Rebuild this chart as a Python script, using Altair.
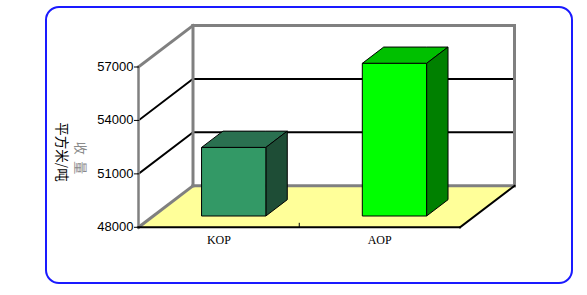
import altair as alt
import pandas as pd

# ---------------- data ----------------
categories = ["KOP", "AOP"]
values = [51850, 56570]
front_colors = ["#339966", "#00ff00"]
top_colors = ["#2a7050", "#00c000"]
side_colors = ["#1e4d36", "#008000"]
tick_values = [48000, 51000, 54000, 57000]
grid_values = [51000, 54000]
y_title = "平方米/吨"
y_title2 = "收\u2002量"

# ---------------- layout (pixels -> scale units) ----------------
BASE, TOP = 48000, 57000
VIEW_W, VIEW_H = 526, 276
FRONT_X0 = 92.5          # front y-axis position inside the view
FRONT_W = 321.5          # front floor width
BASE_Y = 220.3           # y of 48000 inside the view
PX_Y = 160.3 / (TOP - BASE)
DX = 54.5 / FRONT_W      # depth offset in x units
DY = 41.5 / PX_Y         # depth offset in y units
BAR_HALF = 0.1
BAR_FRONT, BAR_BACK = 0.272, 0.665
TICK = 4 / FRONT_W

xscale = alt.Scale(domain=[-FRONT_X0 / FRONT_W, (VIEW_W - FRONT_X0) / FRONT_W], nice=False, zero=False)
yscale = alt.Scale(domain=[BASE - (VIEW_H - BASE_Y) / PX_Y, BASE + BASE_Y / PX_Y], nice=False, zero=False)

def X(f):
    return alt.X(f, type="quantitative", scale=xscale, axis=None)

def Y(f):
    return alt.Y(f, type="quantitative", scale=yscale, axis=None)

# ---------------- polygons (walls, floor, bar faces) ----------------
walls = []
def add(rows, poly, fill, pts):
    for x, y, y2 in pts:
        rows.append({"poly": poly, "x": x, "y": y, "y2": y2, "fill": fill})

add(walls, "left", "#ffffff", [(0, BASE, TOP), (DX, BASE + DY, TOP + DY)])
add(walls, "floor", "#ffff99", [(0, BASE, BASE), (DX, BASE, BASE + DY),
                                (1, BASE, BASE + DY), (1 + DX, BASE + DY, BASE + DY)])
walls_df = pd.DataFrame(walls)

back_df = pd.DataFrame([{"x": DX, "x2": 1 + DX, "y": BASE + DY, "y2": TOP + DY}])

n = len(categories)
fronts, faces = [], []
for i, (cat, v) in enumerate(zip(categories, values)):
    c = (i + 0.5) / n
    xl, xr = c - BAR_HALF, c + BAR_HALF
    fx, fy = BAR_FRONT * DX, BAR_FRONT * DY
    bx, by = BAR_BACK * DX, BAR_BACK * DY
    fronts.append({"x": xl + fx, "x2": xr + fx, "y": BASE + fy, "y2": v + fy, "fill": front_colors[i]})
    add(faces, cat + "_top", top_colors[i], [(xl + fx, v + fy, v + fy), (xl + bx, v + fy, v + by),
                                             (xr + fx, v + fy, v + by), (xr + bx, v + by, v + by)])
    add(faces, cat + "_side", side_colors[i], [(xr + fx, BASE + fy, v + fy), (xr + bx, BASE + by, v + by)])
fronts_df = pd.DataFrame(fronts)
faces_df = pd.DataFrame(faces)

# ---------------- line segments ----------------
segs = []
def seg(x, y, x2, y2, c, w):
    segs.append({"x": x, "y": y, "x2": x2, "y2": y2, "c": c, "w": w})

for g in grid_values:
    seg(DX, g + DY, 1 + DX, g + DY, "#000000", 2)
    seg(0, g, DX, g + DY, "#000000", 2)
G = "#808080"
seg(DX, BASE + DY, 1 + DX, BASE + DY, G, 3)
seg(DX, TOP + DY, 1 + DX, TOP + DY, G, 3)
seg(DX, BASE + DY, DX, TOP + DY, G, 3)
seg(1 + DX, BASE + DY, 1 + DX, TOP + DY, G, 3)
seg(0, TOP, DX, TOP + DY, G, 3)
seg(0, BASE, DX, BASE + DY, G, 3)
seg(0, BASE, 0, TOP, G, 2.5)
seg(0, BASE, 1, BASE, "#000000", 2)
seg(1, BASE, 1 + DX, BASE + DY, "#000000", 2)
seg(0.5, BASE, 0.5, BASE + 4 / PX_Y, "#000000", 1)
for t in tick_values:
    seg(-TICK, t, 0, t, "#000000", 1)
segs_df = pd.DataFrame(segs)

ticks_df = pd.DataFrame({"v": tick_values, "x": [0] * len(tick_values), "label": [str(t) for t in tick_values]})
cats_df = pd.DataFrame({"cat": categories, "x": [(i + 0.5) / n for i in range(n)], "y": [BASE] * n})

# ---------------- layers ----------------
back = alt.Chart(back_df).mark_rect(fill="white").encode(x=X("x"), x2="x2", y=Y("y"), y2="y2")

wall_layer = alt.Chart(walls_df).mark_area(orient="vertical").encode(
    x=X("x"), y=Y("y").stack(None), y2="y2", detail="poly:N",
    fill=alt.Fill("fill:N", scale=None))

lines = alt.Chart(segs_df).mark_rule(strokeCap="square").encode(
    x=X("x"), x2="x2", y=Y("y"), y2="y2",
    color=alt.Color("c:N", scale=None), strokeWidth=alt.StrokeWidth("w:Q", scale=None))

bar_front = alt.Chart(fronts_df).mark_rect(stroke="black", strokeWidth=1).encode(
    x=X("x"), x2="x2", y=Y("y"), y2="y2", fill=alt.Fill("fill:N", scale=None))

bar_faces = alt.Chart(faces_df).mark_area(orient="vertical", stroke="black", strokeWidth=1).encode(
    x=X("x"), y=Y("y").stack(None), y2="y2", detail="poly:N",
    fill=alt.Fill("fill:N", scale=None))

tick_labels = alt.Chart(ticks_df).mark_text(
    align="right", baseline="middle", dx=-5, font="Liberation Sans", fontSize=13, color="black"
).encode(x=X("x"), y=Y("v"), text="label:N")

cat_labels = alt.Chart(cats_df).mark_text(
    align="center", baseline="middle", dy=13, font="Liberation Serif", fontSize=12, color="black"
).encode(x=X("x"), y=Y("y"), text="cat:N")

title1 = alt.Chart(pd.DataFrame({"t": [y_title]})).mark_text(
    angle=90, align="center", baseline="middle", font="Noto Sans CJK SC", fontSize=13.5, color="black"
).encode(x=alt.value(15), y=alt.value(145), text="t:N")

title2 = alt.Chart(pd.DataFrame({"t": [y_title2]})).mark_text(
    angle=90, align="center", baseline="middle", font="Noto Sans CJK SC", fontSize=13, color="#8a8a8a"
).encode(x=alt.value(34), y=alt.value(151), text="t:N")

chart = alt.layer(
    back, wall_layer, lines, bar_faces, bar_front, tick_labels, cat_labels, title1, title2
).properties(
    width=VIEW_W, height=VIEW_H, autosize="none",
    padding={"left": 46, "top": 7, "right": 15, "bottom": 12},
    background="white",
).configure_view(
    stroke="#1a1aff", strokeWidth=2, cornerRadius=13
)

chart.save("out.html", embed_options={"renderer": "svg", "actions": False})
